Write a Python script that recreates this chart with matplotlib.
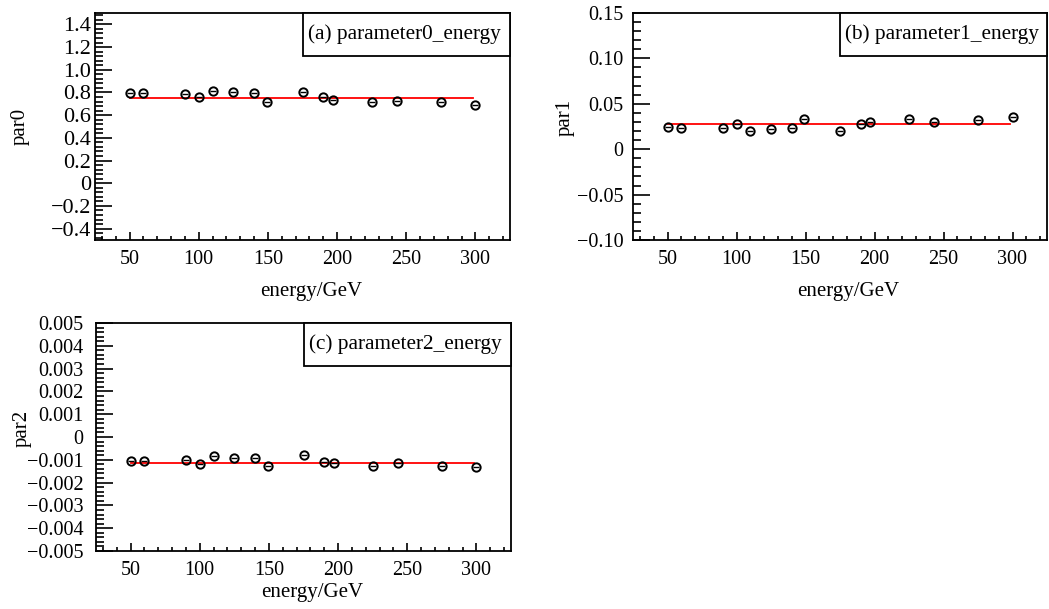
import matplotlib
matplotlib.use("Agg")
import matplotlib.pyplot as plt
from matplotlib.ticker import MultipleLocator, FuncFormatter
from matplotlib.patches import Rectangle

energy = [50, 60, 90, 100, 110, 125, 140, 149, 175, 190, 197, 225, 243, 275, 300]
par0 = [0.795, 0.795, 0.786, 0.757, 0.815, 0.801, 0.792, 0.719, 0.807, 0.757, 0.733, 0.716, 0.727, 0.716, 0.692]
par1 = [0.0246, 0.0232, 0.0235, 0.0283, 0.0202, 0.0217, 0.0228, 0.0331, 0.0195, 0.0276, 0.0298, 0.0331, 0.0305, 0.0327, 0.0353]
par2 = [-0.00107, -0.00107, -0.00099, -0.00118, -0.00084, -0.00091, -0.00091, -0.00129,
        -0.00079, -0.00110, -0.00116, -0.00129, -0.00116, -0.00125, -0.00131]
fit_vals = [0.754, 0.0283, -0.00115]
fit_range = [50, 298]
titles = ["(a) parameter0_energy", "(b) parameter1_energy", "(c) parameter2_energy"]
ylabels = ["par0", "par1", "par2"]

plt.rcParams['font.family'] = ['Liberation Serif', 'DejaVu Serif']
plt.rcParams['axes.unicode_minus'] = True

W, H = 1049, 609
fig = plt.figure(figsize=(W / 100, H / 100), dpi=100)


def add_ax(left, right, top, bottom):
    return fig.add_axes([left / W, (H - bottom) / H, (right - left) / W, (bottom - top) / H])


axes_px = [(95, 510, 13, 240), (633, 1047, 13, 240), (96, 511, 323, 551)]
ylims = [(-0.5, 1.5), (-0.10, 0.15), (-0.005, 0.005)]
ymaj = [0.2, 0.05, 0.001]
ymin = [0.04, 0.01, 0.0002]
ydec = [1, 2, 3]
ypad = [3, 7, 9]
ysize = [16, 14.5, 14.5]
ylab_pos = [(-0.18, 0.5), (-0.164, 0.542), (-0.178, 0.539)]
xlab_y = [-0.225, -0.225, -0.18]
data = [par0, par1, par2]

for i in range(3):
    ax = add_ax(*axes_px[i])
    ax.set_xlim(25, 325)
    ax.set_ylim(*ylims[i])
    ax.plot(fit_range, [fit_vals[i], fit_vals[i]], color='red', lw=1.3, zorder=2)
    ax.plot(energy, data[i], linestyle='none', marker='o', markersize=6,
            markerfacecolor='none', markeredgecolor='black', markeredgewidth=1.4, zorder=3)
    ax.plot(energy, data[i], linestyle='none', marker='_', markersize=4.5,
            markeredgecolor='black', markeredgewidth=1.0, zorder=3)

    ax.xaxis.set_major_locator(MultipleLocator(50))
    ax.xaxis.set_minor_locator(MultipleLocator(10))
    ax.yaxis.set_major_locator(MultipleLocator(ymaj[i]))
    ax.yaxis.set_minor_locator(MultipleLocator(ymin[i]))
    d = ydec[i]
    ax.yaxis.set_major_formatter(FuncFormatter(
        lambda v, p, d=d: "0" if abs(v) < 1e-12 else (f"{v:.{d}f}".replace('-', '\u2212'))))
    ax.xaxis.set_major_formatter(FuncFormatter(lambda v, p: f"{int(round(v))}"))

    ax.tick_params(axis='both', which='both', direction='in', top=False, right=False,
                   labelsize=14.5, width=1.2)
    ax.tick_params(axis='x', which='major', length=6, pad=7)
    ax.tick_params(axis='x', which='minor', length=3)
    ax.tick_params(axis='y', which='major', length=12, pad=ypad[i], labelsize=ysize[i])
    ax.tick_params(axis='y', which='minor', length=6)
    for s in ax.spines.values():
        s.set_linewidth(1.3)

    ax.set_ylabel(ylabels[i], fontsize=15)
    ax.yaxis.set_label_coords(*ylab_pos[i])
    ax.yaxis.label.set_va('center')
    ax.set_xlabel("energy/GeV", fontsize=15)
    ax.xaxis.set_label_coords(0.52, xlab_y[i])
    ax.xaxis.label.set_va('center')

    # title box
    by0 = 0.812
    ax.add_patch(Rectangle((0.5, by0), 0.5, 1 - by0, transform=ax.transAxes,
                           facecolor='white', edgecolor='black', lw=1.3, zorder=4, clip_on=False))
    ax.text(0.513, (1 + by0) / 2, titles[i], transform=ax.transAxes, fontsize=15.3,
            ha='left', va='center', zorder=5)

fig.savefig("out.png", dpi=100)
